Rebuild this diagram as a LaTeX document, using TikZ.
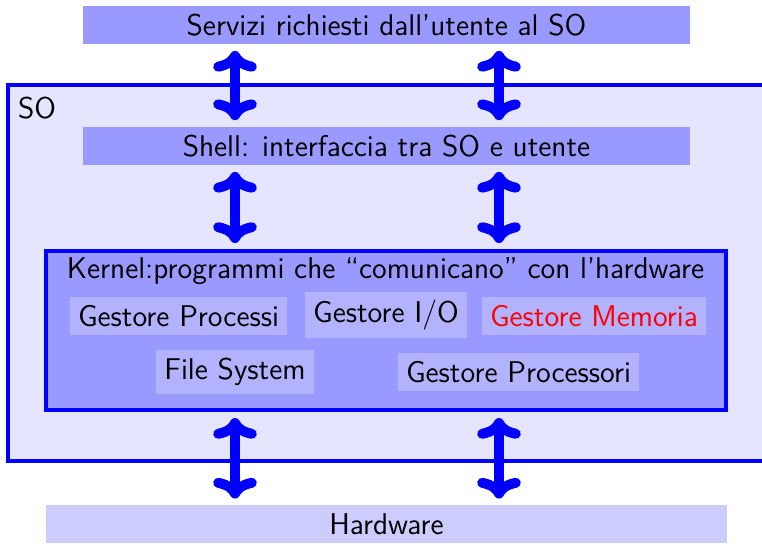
\documentclass[tikz,border=0pt]{standalone}
\usetikzlibrary{arrows.meta}

\begin{document}
\begin{tikzpicture}[x=0.4pt,y=-0.4pt,
		font=\sffamily\fontsize{12}{14}\selectfont,
		livello/.style={fill=blue!40, minimum width=242.8pt},
		modulo/.style={fill=blue!30},
		biarrow/.style={{To[round, scale=0.8]}-{To[round, scale=0.8]}, blue, line width=4pt, shorten <=2.4pt, shorten >=2.4pt}]
		\clip (0,0) rectangle (762,543);
		% columns of the arrows
		\coordinate (colL) at (235,0);
		\coordinate (colR) at (499,0);
		% operating system
		\node[draw=blue, fill=blue!10, line width=1.6pt, minimum width=304.8pt, minimum height=150.5pt] (so) at (389,273) {};
		\node (solab) at (37,108) {SO};
		% layers
		\node[livello] (serv) at (386.5,25) {Servizi richiesti dall’utente al SO};
		\node[livello] (shell) at (386.5,146) {Shell: interfaccia tra SO e utente};
		\node[fill=blue!20, minimum width=272.4pt] (hw) at (386.5,524) {Hardware};
		% kernel and its parts
		\node[draw=blue, fill=blue!40, line width=1.6pt, minimum width=272pt, minimum height=63.6pt] (kernel) at (386,330.5) {};
		\node (kerlab) at (385.5,271) {Kernel:programmi che “comunicano” con l’hardware};
		\node[modulo] (gp) at (178.5,316) {Gestore Processi};
		\node[modulo] (gio) at (386,315) {Gestore I/O};
		\node[modulo, text=red] (gm) at (594,316) {Gestore Memoria};
		\node[modulo] (fs) at (235,372) {File System};
		\node[modulo] (gpr) at (518.5,372) {Gestore Processori};
		% arrows between layers
		\foreach \c in {colL,colR}
		{
			\draw[biarrow] (serv.south -| \c) -- (shell.north -| \c);
			\draw[biarrow] (shell.south -| \c) -- (kernel.north -| \c);
			\draw[biarrow] (kernel.south -| \c) -- (hw.north -| \c);
		}
	\end{tikzpicture}
\end{document}
